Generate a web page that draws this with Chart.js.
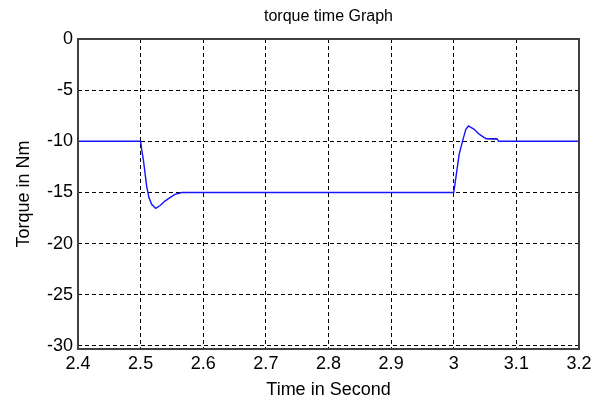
<!DOCTYPE html>
<html>
<head>
<meta charset="utf-8">
<script src="https://cdn.jsdelivr.net/npm/chart.js@4"></script>
<style>
html,body{margin:0;padding:0;background:#fff;}
#wrap{width:606px;height:403px;}
canvas{display:block;}
</style>
</head>
<body>
<div id="wrap"><canvas id="c" width="606" height="403"></canvas></div>
<script>
// ---- data ----
const timeS = [2.4, 2.5, 2.5016, 2.5043, 2.5069, 2.5096, 2.5133, 2.5176, 2.524, 2.5308, 2.5388, 2.5468, 2.5548, 2.5655,
               3.0, 3.0034, 3.0086, 3.0139, 3.0193, 3.0235, 3.0326, 3.0406, 3.0486, 3.0512, 3.0697, 3.0715, 3.2];
const torqueNm = [-10, -10, -10.78, -11.76, -13.03, -14.37, -15.5, -16.16, -16.55, -16.3, -15.84, -15.5, -15.18, -15.0,
                  -15.0, -13.55, -11.27, -10.0, -8.83, -8.5, -8.83, -9.3, -9.64, -9.72, -9.78, -10.0, -10.0];
const overlayTime = [3.0512, 3.0697];
const overlayTorque = [-9.74, -9.76];

const xTickValues = [2.4, 2.5, 2.6, 2.7, 2.8, 2.9, 3.0, 3.1, 3.2];
const xTickLabels = ['2.4', '2.5', '2.6', '2.7', '2.8', '2.9', '3', '3.1', '3.2'];
const yTickValues = [-30, -25, -20, -15, -10, -5, 0];
const yTickLabels = ['-30', '-25', '-20', '-15', '-10', '-5', '0'];

const titleText = 'torque time Graph';
const xTitle = 'Time in Second';
const yTitle = 'Torque in Nm';

// ---- chart ----
const FONT = '"Liberation Sans", Arial, sans-serif';

const frame = {
  id: 'frame',
  afterDraw(chart) {
    const {ctx, chartArea: a} = chart;
    ctx.save();
    ctx.strokeStyle = '#404040';
    ctx.lineWidth = 2;
    ctx.setLineDash([]);
    ctx.strokeRect(a.left, a.top, a.right - a.left, a.bottom - a.top);
    ctx.restore();
  }
};

new Chart(document.getElementById('c'), {
  type: 'line',
  data: {
    datasets: [
      {
        data: timeS.map((t, i) => ({x: t, y: torqueNm[i]})),
        borderColor: 'rgb(20,20,255)',
        borderWidth: 1.4,
        pointRadius: 0,
        tension: 0,
        fill: false
      },
      {
        data: overlayTime.map((t, i) => ({x: t, y: overlayTorque[i]})),
        borderColor: '#000000',
        borderWidth: 1.4,
        pointRadius: 0,
        tension: 0,
        fill: false
      }
    ]
  },
  options: {
    responsive: false,
    animation: false,
    devicePixelRatio: 1,
    layout: {padding: {left: 0, right: 27, top: 0, bottom: 0}},
    plugins: {
      legend: {display: false},
      tooltip: {enabled: false},
      title: {
        display: true,
        text: titleText,
        fullSize: false,
        color: '#000',
        font: {family: FONT, size: 16, weight: 'normal'},
        padding: {top: 7, bottom: 12.8}
      }
    },
    scales: {
      x: {
        type: 'linear',
        min: 2.4,
        max: 3.2,
        afterBuildTicks: s => { s.ticks = xTickValues.map(v => ({value: v})); },
        afterFit: s => { s.height = 54; },
        ticks: {
          autoSkip: false,
          maxRotation: 0,
          padding: 4,
          color: '#000',
          font: {family: FONT, size: 18},
          callback: (v, i) => xTickLabels[i]
        },
        grid: {color: '#000', lineWidth: 1, drawTicks: false},
        border: {display: false, dash: [4, 3]},
        title: {
          display: true,
          text: xTitle,
          color: '#000',
          font: {family: FONT, size: 18},
          padding: {top: 0, bottom: 2}
        }
      },
      y: {
        type: 'linear',
        min: -30.3,
        max: 0,
        afterBuildTicks: s => { s.ticks = yTickValues.map(v => ({value: v})); },
        afterFit: s => { s.width = 78; },
        ticks: {
          autoSkip: false,
          padding: 5,
          color: '#000',
          font: {family: FONT, size: 18},
          callback: (v, i) => yTickLabels[i]
        },
        grid: {color: '#000', lineWidth: 1, drawTicks: false},
        border: {display: false, dash: [4, 3]},
        title: {
          display: true,
          text: yTitle,
          color: '#000',
          font: {family: FONT, size: 18},
          padding: {top: 13, bottom: 0}
        }
      }
    }
  },
  plugins: [frame]
});
</script>
</body>
</html>
